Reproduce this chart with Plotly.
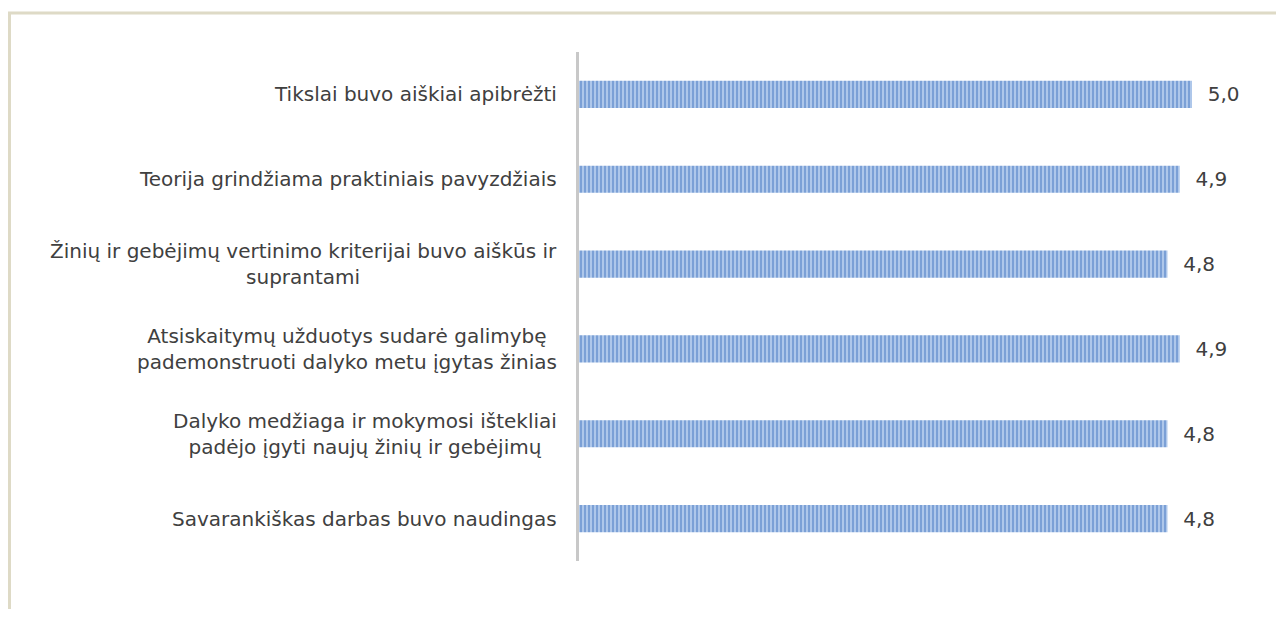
import plotly.graph_objects as go

categories = [
    "Tikslai buvo aiškiai apibrėžti",
    "Teorija grindžiama praktiniais pavyzdžiais",
    "Žinių ir gebėjimų vertinimo kriterijai buvo aiškūs ir<br>suprantami",
    "Atsiskaitymų užduotys sudarė galimybę<br>pademonstruoti dalyko metu įgytas žinias",
    "Dalyko medžiaga ir mokymosi ištekliai<br>padėjo įgyti naujų žinių ir gebėjimų",
    "Savarankiškas darbas buvo naudingas",
]
values = [5.0, 4.9, 4.8, 4.9, 4.8, 4.8]

# page body has an 8px margin; figure drawn from (8, 8)
OFF = 8
W, H = 1284 - 2 * OFF, 617 - 2 * OFF
L = 579 - OFF
T = 52 - OFF
R = W - (1250 - OFF)
B = H - (561 - OFF)
pw = W - L - R
ph = H - T - B
px_per_unit = 122.6
xmax = pw / px_per_unit

text_color = "#404040"
font_family = "DejaVu Sans, sans-serif"
fsize = 20

fig = go.Figure()
fig.add_trace(go.Bar(
    x=values,
    y=categories,
    orientation="h",
    width=0.32,
    marker=dict(
        color="#4376bf",
        line=dict(width=0),
        pattern=dict(shape="|", bgcolor="#b3cbec", fgcolor="#4376bf", size=4, solidity=0.55),
    ),
    texttemplate="  %{x:.1f}",
    textposition="outside",
    textfont=dict(size=fsize, color=text_color, family=font_family),
    cliponaxis=False,
    hoverinfo="skip",
))

annotations = []
for c in categories:
    annotations.append(dict(
        x=0, xref="paper", y=c, yref="y",
        text=c, showarrow=False,
        xanchor="right", yanchor="middle", align="center",
        xshift=-20,
        font=dict(size=fsize, color=text_color, family=font_family),
    ))

def px_x(p):
    return (p - OFF - L) / pw

def px_y(p):
    return (H - B - (p - OFF)) / ph

shapes = [dict(
    type="rect", xref="paper", yref="paper",
    x0=px_x(9.5), x1=px_x(1277.5), y0=px_y(660), y1=px_y(13),
    line=dict(color="#dedac6", width=3), fillcolor="rgba(0,0,0,0)", layer="below",
)]

fig.update_layout(
    width=W, height=H,
    margin=dict(l=L, r=R, t=T, b=B),
    paper_bgcolor="white", plot_bgcolor="white",
    separators=",.",
    showlegend=False,
    annotations=annotations,
    shapes=shapes,
    xaxis=dict(range=[0, xmax], visible=False, fixedrange=True),
    yaxis=dict(
        autorange="reversed", showticklabels=False, ticks="",
        showline=True, linecolor="#c8c8c8", linewidth=3, showgrid=False, zeroline=False,
    ),
)

fig.write_html("out.html")
